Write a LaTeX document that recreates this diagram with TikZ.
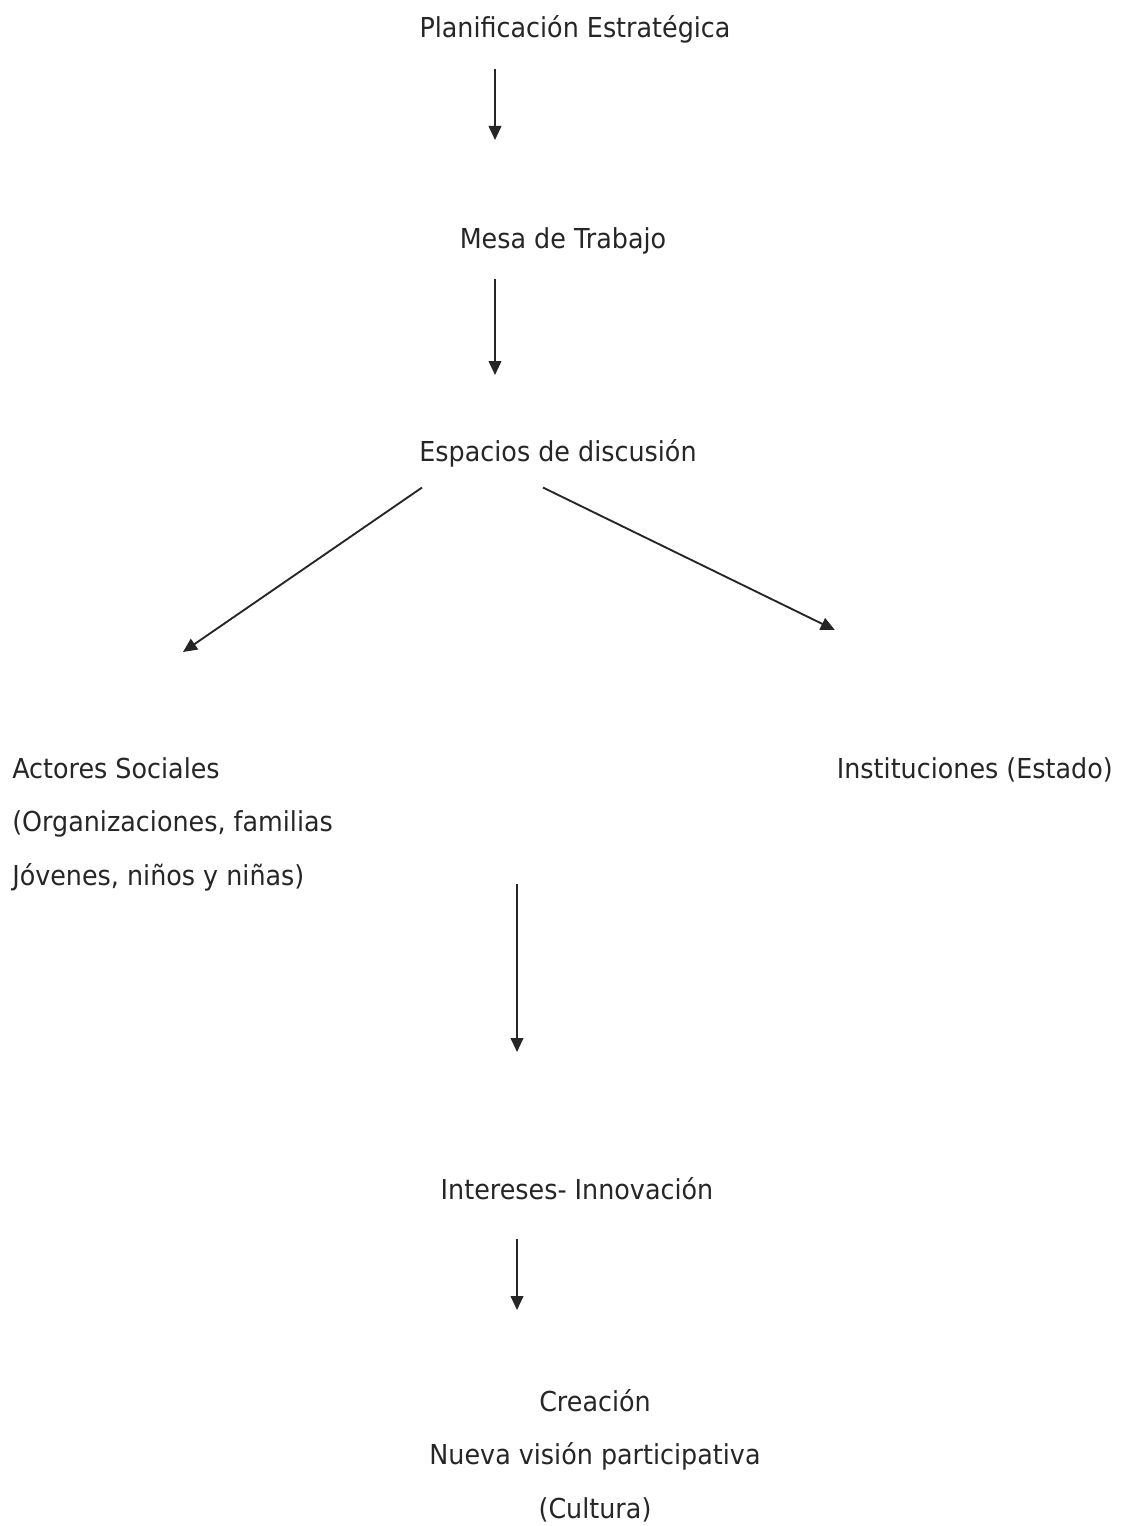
\documentclass[tikz,border=0pt]{standalone}
\usepackage{fontspec}
\setmainfont{DejaVu Sans}[FakeStretch=0.925]
\usetikzlibrary{arrows.meta,calc}
\begin{document}
\begin{tikzpicture}[x=0.75pt,y=-0.75pt,
  lbl/.style={inner sep=0pt,text height=15pt,text depth=4.5pt,font=\fontsize{20.6}{40.1}\selectfont,text=black!85},
  arr/.style={line width=1.4pt,draw=black!85,-{Triangle[length=10.5pt,width=9.5pt]}}]
\useasboundingbox (0,0) rectangle (1120,1526);
\fill[white] (0,0) rectangle (1120,1526);
\node[lbl,anchor=north] (plan) at (575,17) {Planificación Estratégica};
\node[lbl,anchor=north] (mesa) at (563,228) {Mesa de Trabajo};
\node[lbl,anchor=north] (esp) at (558,441) {Espacios de discusión};
\node[lbl,anchor=north west,align=left] (act) at (12,865) {Actores Sociales\\(Organizaciones, familias\\Jóvenes, niños y niñas)};
\node[lbl,anchor=north east] (inst) at (1113,758) {Instituciones (Estado)};
\node[lbl,anchor=north] (int) at (577,1179) {Intereses- Innovación};
\node[lbl,anchor=north,align=center] (cre) at (595,1498) {Creación\\Nueva visión participativa\\(Cultura)};
\draw[arr] ($(plan.south)+(-80,25)$) -- ($(mesa.north)+(-68,-88)$);
\draw[arr] ($(mesa.south)+(-68,24)$) -- ($(esp.north)+(-63,-66)$);
\draw[arr] ($(esp.south)+(-136,20)$) -- ($(act.north west)+(171,-213)$);
\draw[arr] ($(esp.south)+(-15,20)$) -- ($(inst.north)+(-140,-128)$);
\draw[arr] ($(int.north)+(-60,-295)$) -- ($(int.north)+(-60,-127)$);
\draw[arr] ($(int.south)+(-60,33)$) -- ($(cre.north)+(-78,-188)$);
\end{tikzpicture}
\end{document}
